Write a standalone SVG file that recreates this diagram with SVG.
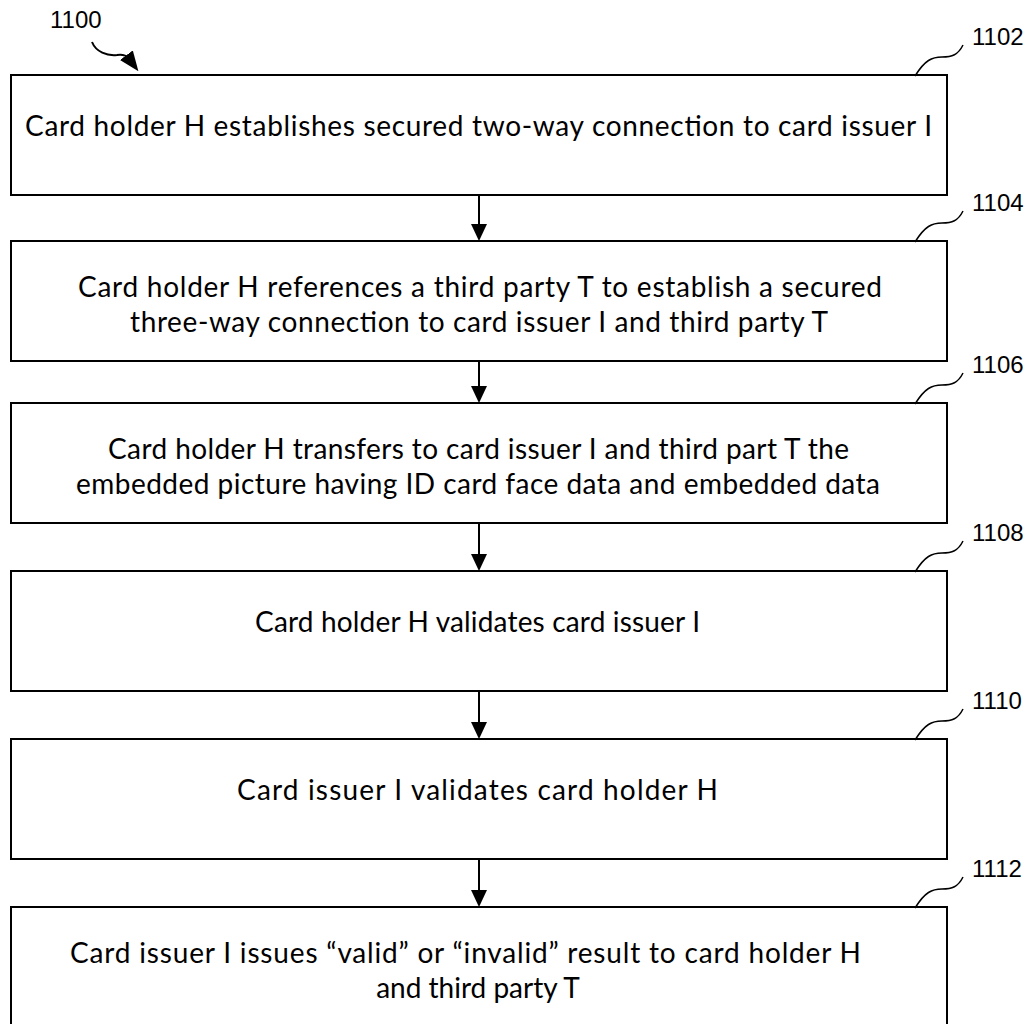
<svg xmlns="http://www.w3.org/2000/svg" width="1035" height="1024" viewBox="0 0 1035 1024">
<style>
.box{fill:#fff;stroke:#000;stroke-width:2}
.t{font-family:Lato,"Open Sans","Liberation Sans",sans-serif;font-size:28px;fill:#000}
.ref{font-family:"Liberation Sans",Arial,sans-serif;font-size:24px;fill:#000}
.lead{fill:none;stroke:#000;stroke-width:1.5}
.arr{fill:none;stroke:#000;stroke-width:2;marker-end:url(#ah)}
</style>
<defs>
<marker id="ah" markerWidth="17" markerHeight="16" refX="7" refY="8" orient="auto" markerUnits="userSpaceOnUse">
<path d="M0,0 L17,8 L0,16 Z" fill="#000"/>
</marker>
<marker id="ah2" markerWidth="20" markerHeight="16" refX="6" refY="8" orient="auto" markerUnits="userSpaceOnUse">
<path d="M0,0 L20,8 L0,16 Z" fill="#000"/>
</marker>
</defs>
<rect width="1035" height="1024" fill="#fff"/>

<g id="label-1100">
<text class="ref" x="50" y="28">1100</text>
<path d="M92,42 C96,52 107,56 117,55 C124,54 127,56 130,60" fill="none" stroke="#000" stroke-width="2" marker-end="url(#ah2)"/>
</g>

<g id="connectors">
<path class="arr" d="M479,195 V231"/>
<path class="arr" d="M479,361 V393"/>
<path class="arr" d="M479,523 V561"/>
<path class="arr" d="M479,691 V729"/>
<path class="arr" d="M479,859 V897"/>
</g>

<g id="n1102">
<rect class="box" x="11" y="75" width="936" height="120"/>
<text class="t" x="25" y="136" textLength="907">Card holder H establishes secured two-way connection to card issuer I</text>
<path class="lead" d="M915,76 C925,60 932,57 942,57 C952,57 958,55 963,45"/>
<text class="ref" x="972" y="45">1102</text>
</g>

<g id="n1104">
<rect class="box" x="11" y="241" width="936" height="120"/>
<text class="t" x="78" y="297" textLength="804">Card holder H references a third party T to establish a secured</text>
<text class="t" x="130" y="332" textLength="698">three-way connection to card issuer I and third party T</text>
<path class="lead" d="M915,242 C925,226 932,223 942,223 C952,223 958,221 963,211"/>
<text class="ref" x="972" y="211">1104</text>
</g>

<g id="n1106">
<rect class="box" x="11" y="403" width="936" height="120"/>
<text class="t" x="108" y="459" textLength="741">Card holder H transfers to card issuer I and third part T the</text>
<text class="t" x="76" y="494" textLength="804">embedded picture having ID card face data and embedded data</text>
<path class="lead" d="M915,404 C925,388 932,385 942,385 C952,385 958,383 963,373"/>
<text class="ref" x="972" y="373">1106</text>
</g>

<g id="n1108">
<rect class="box" x="11" y="571" width="936" height="120"/>
<text class="t" x="255" y="632" textLength="445">Card holder H validates card issuer I</text>
<path class="lead" d="M915,572 C925,556 932,553 942,553 C952,553 958,551 963,541"/>
<text class="ref" x="972" y="541">1108</text>
</g>

<g id="n1110">
<rect class="box" x="11" y="739" width="936" height="120"/>
<text class="t" x="237" y="800" textLength="481">Card issuer I validates card holder H</text>
<path class="lead" d="M915,740 C925,724 932,721 942,721 C952,721 958,719 963,709"/>
<text class="ref" x="972" y="709">1110</text>
</g>

<g id="n1112">
<rect class="box" x="11" y="907" width="936" height="130"/>
<text class="t" x="70" y="963" textLength="791">Card issuer I issues “valid” or “invalid” result to card holder H</text>
<text class="t" x="478" y="998" text-anchor="middle">and third party T</text>
<path class="lead" d="M915,908 C925,892 932,889 942,889 C952,889 958,887 963,877"/>
<text class="ref" x="972" y="877">1112</text>
</g>
</svg>
